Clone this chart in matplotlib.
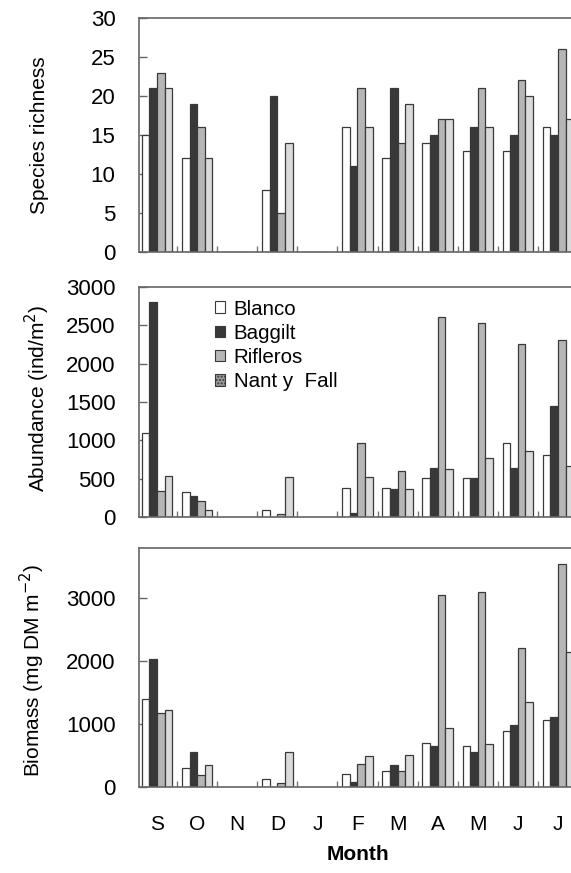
import numpy as np
import matplotlib
matplotlib.use("Agg")
import matplotlib.pyplot as plt
from matplotlib.patches import Patch

months = ["S", "O", "N", "D", "J", "F", "M", "A", "M", "J", "J"]
sites = ["Blanco", "Baggilt", "Rifleros", "Nant y  Fall"]

richness = {
    "Blanco":   [15, 12, 0, 8, 0, 16, 12, 14, 13, 13, 16],
    "Baggilt":  [21, 19, 0, 20, 0, 11, 21, 15, 16, 15, 15],
    "Rifleros": [23, 16, 0, 5, 0, 21, 14, 17, 21, 22, 26],
    "Nant":     [21, 12, 0, 14, 0, 16, 19, 17, 16, 20, 17],
}
abundance = {
    "Blanco":   [1100, 325, 0, 85, 0, 380, 380, 505, 505, 960, 815],
    "Baggilt":  [2800, 275, 0, 0, 0, 55, 360, 635, 510, 635, 1445],
    "Rifleros": [340, 215, 0, 45, 0, 960, 605, 2605, 2525, 2260, 2305],
    "Nant":     [540, 85, 0, 520, 0, 520, 370, 630, 770, 865, 670],
}
biomass = {
    "Blanco":   [1400, 310, 0, 120, 0, 200, 260, 695, 645, 895, 1070],
    "Baggilt":  [2040, 555, 0, 0, 0, 80, 345, 645, 555, 980, 1120],
    "Rifleros": [1170, 185, 0, 70, 0, 360, 260, 3060, 3105, 2205, 3545],
    "Nant":     [1230, 345, 0, 560, 0, 490, 515, 945, 690, 1350, 2145],
}

keys = ["Blanco", "Baggilt", "Rifleros", "Nant"]
colors = ["#ffffff", "#383838", "#b6b6b6", "#dadada"]
edge = "#3a3a3a"
spine_col = "#666666"

plt.rcParams['font.family'] = ['Liberation Sans', 'DejaVu Sans']

fig = plt.figure(figsize=(5.71, 8.73), dpi=100)
W, H = 571.0, 873.0

def make_ax(top, bottom):
    left, right = 139, 578
    return fig.add_axes([left / W, 1 - bottom / H, (right - left) / W, (bottom - top) / H])

ax1 = make_ax(18, 252)
ax2 = make_ax(287, 517)
ax3 = make_ax(548, 787)

x = np.arange(len(months))
w = 0.19

for ax, data in [(ax1, richness), (ax2, abundance), (ax3, biomass)]:
    for i, k in enumerate(keys):
        ax.bar(x + (i - 1.5) * w, data[k], width=w, color=colors[i],
               edgecolor=edge, linewidth=0.9, zorder=2)
    ax.set_xlim(-0.45, 10.5)
    ax.set_xticks(x)
    ax.set_xticks(x[:-1] + 0.5, minor=True)
    ax.tick_params(axis="x", which="major", length=0)
    ax.tick_params(axis="x", which="minor", direction="in", length=4, width=1, color="#777777")
    ax.tick_params(axis="y", direction="in", length=6, width=1, color=spine_col,
                   labelsize=16, pad=17)
    for sp in ax.spines.values():
        sp.set_color(spine_col)
        sp.set_linewidth(1.2)

ax1.set_ylim(0, 30)
ax1.set_yticks([0, 5, 10, 15, 20, 25, 30])
ax2.set_ylim(0, 3000)
ax2.set_yticks([0, 500, 1000, 1500, 2000, 2500, 3000])
ax3.set_ylim(0, 3800)
ax3.set_yticks([0, 1000, 2000, 3000])

ax1.set_xticklabels([])
ax2.set_xticklabels([])
ax3.set_xticklabels(months, fontsize=15)
ax3.tick_params(axis="x", which="major", pad=20)

fig.text(40 / W, 1 - 135 / H, "Species richness", rotation=90, ha="center", va="center", fontsize=15)
fig.text(37 / W, 1 - 398 / H, "Abundance (ind/m$^2$)", rotation=90, ha="center", va="center", fontsize=15)
fig.text(32 / W, 1 - 670 / H, "Biomass (mg DM m$^{-2}$)", rotation=90, ha="center", va="center", fontsize=15)
fig.text(358 / W, 1 - 854 / H, "Month", ha="center", va="center", fontsize=15, fontweight="bold")

handles = [
    Patch(facecolor=colors[0], edgecolor=edge, linewidth=0.8),
    Patch(facecolor=colors[1], edgecolor=edge, linewidth=0.8),
    Patch(facecolor=colors[2], edgecolor=edge, linewidth=0.8),
    Patch(facecolor="#9a9a9a", edgecolor=edge, linewidth=0.8, hatch="....."),
]
ax2.legend(handles, sites, loc="upper left", bbox_to_anchor=(0.15, 0.99), frameon=False,
           fontsize=14.8, handlelength=0.5, handleheight=0.5, handletextpad=0.4,
           labelspacing=0.25, borderaxespad=0.3, borderpad=0.2)

fig.savefig("out.png", dpi=100)
